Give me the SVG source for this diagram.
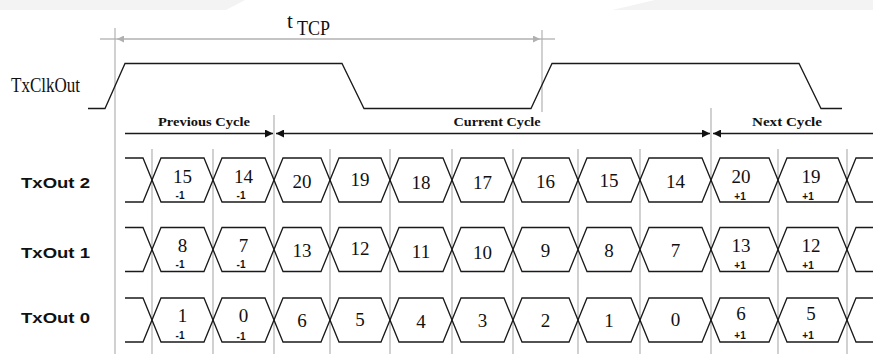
<svg xmlns="http://www.w3.org/2000/svg" xmlns:xlink="http://www.w3.org/1999/xlink" width="873" height="354" viewBox="0 0 873 354">
<style>
.bg{fill:#f3f3f3}
.grid{stroke:#b8b8b8;stroke-width:1.3;fill:none}
.wave{stroke:#1a1a1a;stroke-width:1.3;fill:none}
.cyc{stroke:#1a1a1a;stroke-width:1.4;fill:none}
.dim{stroke:#b0b0b0;stroke-width:1.3;fill:none}
.lbl{font-family:"Liberation Sans",Arial,sans-serif;font-weight:bold;font-size:15px;fill:#111}
.clk{font-family:"Liberation Serif","Times New Roman",serif;font-size:21px;fill:#111}
.cy{font-family:"Liberation Serif","Times New Roman",serif;font-weight:bold;font-size:12px;fill:#111;text-anchor:middle}
.n{font-family:"Liberation Serif","Times New Roman",serif;font-size:19px;fill:#111;text-anchor:middle}
.s{font-family:"Liberation Sans",Arial,sans-serif;font-weight:bold;font-size:10px;fill:#111;text-anchor:middle}
</style>
<defs>
<marker id="ar" viewBox="0 0 8 8" refX="8" refY="4" markerWidth="8" markerHeight="8" markerUnits="userSpaceOnUse" orient="auto-start-reverse"><path d="M0,0 L8,4 L0,8 Z" fill="#111"/></marker>
<marker id="ag" viewBox="0 0 8 8" refX="8" refY="4" markerWidth="8" markerHeight="7" markerUnits="userSpaceOnUse" orient="auto-start-reverse"><path d="M0,0 L8,4 L0,8 Z" fill="#b0b0b0"/></marker>
<g id="wf">
<path class="wave" d="M125,0 H143 L161,44 H204 L222,0 H265 L283,44 H321 L339,0 H381 L399,44 H443 L461,0 H504 L522,44 H569 L587,0 H631 L649,44 H702 L720,0 H769 L787,44 H838 L856,0 H873"/>
<path class="wave" d="M125,44 H143 L161,0 H204 L222,44 H265 L283,0 H321 L339,44 H381 L399,0 H443 L461,44 H504 L522,0 H569 L587,44 H631 L649,0 H702 L720,44 H769 L787,0 H838 L856,44 H873"/>
</g>
</defs>
<polygon class="bg" points="0,0 245,0 226,10 0,10"/>
<polygon class="bg" points="655,0 873,0 873,10 612,10"/>

<g id="gridlines">
<path class="grid" d="M115,28 V354 M542,30 V112 M152,149 V354 M213,149 V354 M274,115 V354 M330,149 V354 M390,149 V354 M452,149 V354 M513,149 V354 M578,149 V354 M640,149 V354 M711,108 V354 M778,149 V354 M847,149 V354"/>
</g>

<g id="connectors">
<path class="dim" d="M100,39 H117" />
<path class="dim" d="M117,39 H540" marker-start="url(#ag)" marker-end="url(#ag)"/>
<path class="dim" d="M540,39 H555"/>
<path class="cyc" d="M125,133.5 H273" marker-end="url(#ar)"/>
<path class="cyc" d="M276,133.5 H710" marker-start="url(#ar)" marker-end="url(#ar)"/>
<path class="cyc" d="M713,133.5 H873" marker-start="url(#ar)"/>
</g>

<g id="tcp">
<text class="clk" x="287" y="28" font-size="17">t</text>
<text class="clk" x="297" y="35" textLength="33" lengthAdjust="spacingAndGlyphs">TCP</text>
</g>

<g id="txclkout">
<text class="clk" x="11" y="92" textLength="69" lengthAdjust="spacingAndGlyphs">TxClkOut</text>
<path class="wave" d="M88,108.5 H105 L125,63.5 H342 L364,108.5 H531 L552,63.5 H799 L821,108.5 H842"/>
</g>

<g id="cycles">
<text class="cy" x="204" y="126" textLength="92" lengthAdjust="spacingAndGlyphs">Previous Cycle</text>
<text class="cy" x="497" y="126" textLength="87" lengthAdjust="spacingAndGlyphs">Current Cycle</text>
<text class="cy" x="787" y="126" textLength="70" lengthAdjust="spacingAndGlyphs">Next Cycle</text>
</g>

<g id="txout2">
<text class="lbl" x="21" y="188" textLength="69" lengthAdjust="spacingAndGlyphs">TxOut 2</text>
<use xlink:href="#wf" href="#wf" y="158"/>
<text class="n" x="182.5" y="183">15</text><text class="s" x="180" y="199">-1</text>
<text class="n" x="243.5" y="183">14</text><text class="s" x="241" y="199">-1</text>
<text class="n" x="302" y="188">20</text>
<text class="n" x="360" y="186">19</text>
<text class="n" x="421" y="189">18</text>
<text class="n" x="482.5" y="189">17</text>
<text class="n" x="545.5" y="188">16</text>
<text class="n" x="609" y="187">15</text>
<text class="n" x="675.5" y="188">14</text>
<text class="n" x="741" y="183">20</text><text class="s" x="740" y="200">+1</text>
<text class="n" x="811" y="183">19</text><text class="s" x="808" y="200">+1</text>
</g>

<g id="txout1">
<text class="lbl" x="21" y="258" textLength="69" lengthAdjust="spacingAndGlyphs">TxOut 1</text>
<use xlink:href="#wf" href="#wf" y="227.5"/>
<text class="n" x="182.5" y="252">8</text><text class="s" x="180" y="268">-1</text>
<text class="n" x="243.5" y="252">7</text><text class="s" x="241" y="268">-1</text>
<text class="n" x="302" y="257">13</text>
<text class="n" x="360" y="255">12</text>
<text class="n" x="421" y="258">11</text>
<text class="n" x="482.5" y="259">10</text>
<text class="n" x="545.5" y="257">9</text>
<text class="n" x="609" y="257">8</text>
<text class="n" x="675.5" y="257">7</text>
<text class="n" x="741" y="252">13</text><text class="s" x="740" y="269">+1</text>
<text class="n" x="811" y="252">12</text><text class="s" x="808" y="269">+1</text>
</g>

<g id="txout0">
<text class="lbl" x="21" y="323" textLength="69" lengthAdjust="spacingAndGlyphs">TxOut 0</text>
<use xlink:href="#wf" href="#wf" y="298"/>
<text class="n" x="182.5" y="322">1</text><text class="s" x="180" y="339">-1</text>
<text class="n" x="243.5" y="322">0</text><text class="s" x="241" y="340">-1</text>
<text class="n" x="302" y="327">6</text>
<text class="n" x="360" y="326">5</text>
<text class="n" x="421" y="328">4</text>
<text class="n" x="482.5" y="327">3</text>
<text class="n" x="545.5" y="327">2</text>
<text class="n" x="609" y="327">1</text>
<text class="n" x="675.5" y="326">0</text>
<text class="n" x="741" y="320">6</text><text class="s" x="740" y="339">+1</text>
<text class="n" x="811" y="320">5</text><text class="s" x="808" y="339">+1</text>
</g>
</svg>
